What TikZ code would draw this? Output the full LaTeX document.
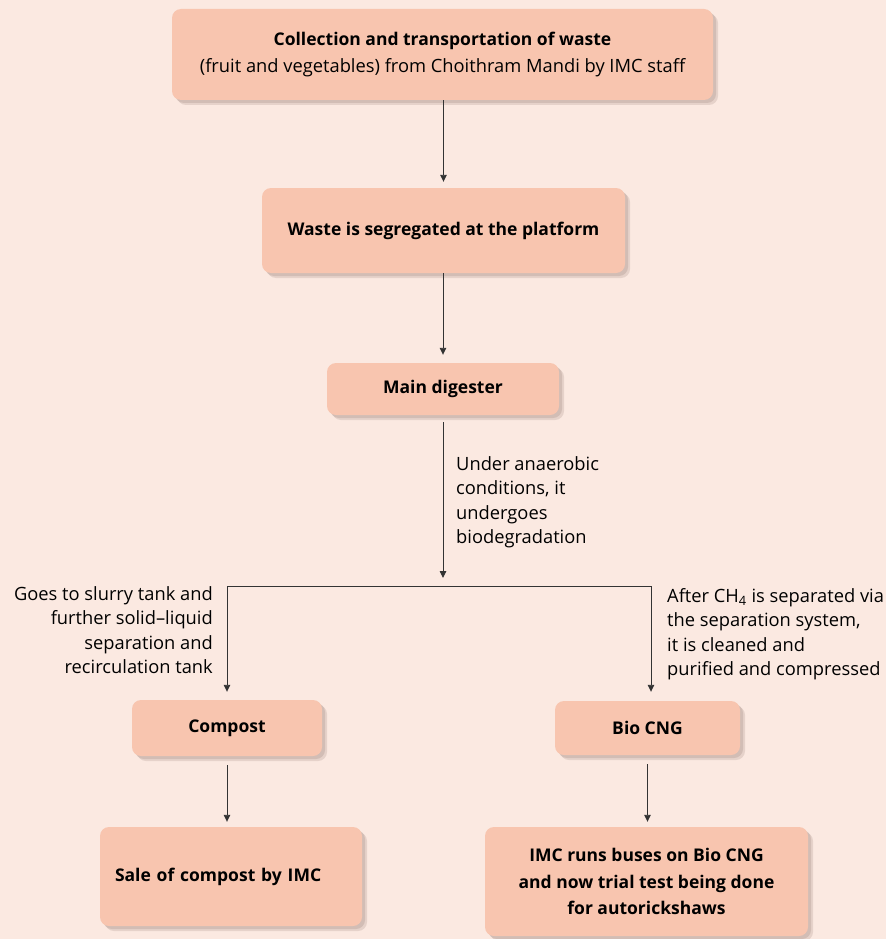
\documentclass[tikz,border=0pt]{standalone}
\usepackage{fontspec}
\setmainfont{Open Sans}
\usetikzlibrary{arrows.meta,shadows}
\definecolor{bgc}{HTML}{FBE9E1}
\definecolor{boxc}{HTML}{F8C5AF}
\definecolor{linec}{HTML}{333333}
\definecolor{shc}{HTML}{BFA9A1}
\tikzset{
  flowbox/.style={fill=boxc, rounded corners=9pt, inner sep=0pt, align=center,
    font=\bfseries\fontsize{17.5}{26.5}\selectfont,
    drop shadow={shadow xshift=5pt, shadow yshift=-5pt, fill=shc, opacity=0.35},
    drop shadow={shadow xshift=3pt, shadow yshift=-3pt, fill=shc, opacity=0.5}},
  conn/.style={draw=linec, line width=0.9pt},
  arr/.style={conn, -{Triangle[length=7pt,width=6.5pt]}},
  note/.style={inner sep=0pt, font=\fontsize{18.3}{24.5}\selectfont, text=black},
}
\begin{document}
\begin{tikzpicture}[x=1pt,y=-1pt]
\fill[bgc] (0,0) rectangle (886,939);
\useasboundingbox (0,0) rectangle (886,939);

\node[flowbox, minimum width=541pt, minimum height=91pt] (b1) at (442.5,54.5)
  {Collection and transportation of waste\\ \mdseries\fontsize{18.3}{26.5}\selectfont (fruit and vegetables) from Choithram Mandi by IMC staff};
\node[flowbox, minimum width=363pt, minimum height=85pt] (b2) at (443.5,230.5)
  {Waste is segregated at the platform};
\node[flowbox, minimum width=232pt, minimum height=52pt] (b3) at (443,389)
  {Main digester};
\node[flowbox, minimum width=190pt, minimum height=56pt] (comp) at (227,728)
  {Compost};
\node[flowbox, minimum width=185pt, minimum height=54pt] (bio) at (647.5,728)
  {Bio CNG};
\node[flowbox, minimum width=262pt, minimum height=99pt, text width=232pt, inner xsep=15pt, align=left] (sale) at (231,876.5)
  {Sale of compost by IMC};
\node[flowbox, minimum width=323pt, minimum height=109pt] (bus) at (646.5,881.5)
  {IMC runs buses on Bio CNG\\ and now trial test being done\\ for autorickshaws};

% connectors
\draw[arr, shorten >=6pt] (b1.south -| b2.north) -- (b2.north);
\draw[arr, shorten >=8pt] (b2.south -| b3.north) -- (b3.north);
\coordinate (j) at (443,586);
\coordinate (jl) at (227,586);
\coordinate (jr) at (651,586);
\draw[arr, shorten <=7pt, shorten >=8pt] (b3.south) -- (j);
\draw[conn] (jl) -- (jr);
\draw[arr, shorten >=8pt] (jl) -- (comp.north);
\draw[arr, shorten >=9pt] (jr) -- (jr |- bio.north);
\draw[arr, shorten <=9pt, shorten >=5pt] (comp.south) -- (comp.south |- sale.north);
\draw[arr, shorten <=9pt, shorten >=5pt] (bio.south) -- (bio.south |- bus.north);

% annotations
\node[note, anchor=north west, align=left] (n1) at (456,456)
  {Under anaerobic\\ conditions, it\\ undergoes\\ biodegradation};
\node[note, anchor=north east, align=right] (n2) at (213,586)
  {Goes to slurry tank and\\ further solid--liquid\\ separation and\\ recirculation tank};
\node[note, anchor=north west, align=left] (n3) at (667,588)
  {After CH\textsubscript{4} is separated via\\ the separation system,\\ it is cleaned and\\ purified and compressed};
\end{tikzpicture}
\end{document}
